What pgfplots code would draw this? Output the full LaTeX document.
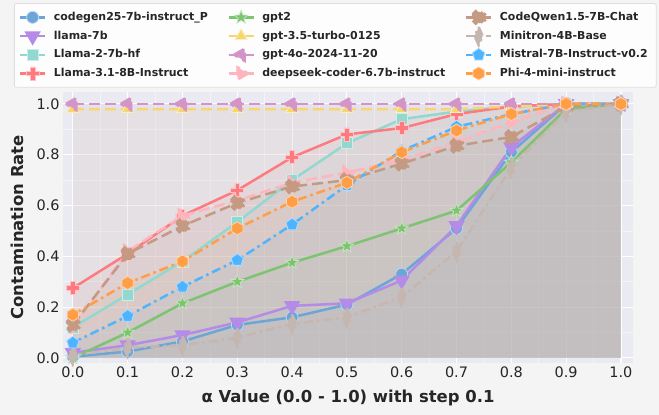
\documentclass[border=0pt]{standalone}
\usepackage{pgfplots}
\usepackage{pgfplotstable}
\pgfplotsset{compat=1.18}
\usetikzlibrary{plotmarks}
\usepackage{fontspec}
\setmainfont{DejaVu Sans}

\definecolor{cA}{HTML}{6CA6D9}
\definecolor{cB}{HTML}{B48CE8}
\definecolor{cC}{HTML}{93D8CF}
\definecolor{cD}{HTML}{FF7A7F}
\definecolor{cE}{HTML}{7CC46F}
\definecolor{cF}{HTML}{F5D76E}
\definecolor{cG}{HTML}{D494C8}
\definecolor{cH}{HTML}{FFB4BE}
\definecolor{cI}{HTML}{C49A82}
\definecolor{cJ}{HTML}{C6B6B0}
\definecolor{cK}{HTML}{4FB4FF}
\definecolor{cL}{HTML}{FF9E45}
\definecolor{figbg}{HTML}{F4F4F4}
\definecolor{axbg}{HTML}{EAEAF2}
\definecolor{txt}{HTML}{262626}
\definecolor{mixc}{RGB}{172,190,196}

% filled plus
\pgfdeclareplotmark{fplus}{%
  \pgfpathmoveto{\pgfpoint{-0.36\pgfplotmarksize}{\pgfplotmarksize}}%
  \pgfpathlineto{\pgfpoint{0.36\pgfplotmarksize}{\pgfplotmarksize}}%
  \pgfpathlineto{\pgfpoint{0.36\pgfplotmarksize}{0.36\pgfplotmarksize}}%
  \pgfpathlineto{\pgfpoint{\pgfplotmarksize}{0.36\pgfplotmarksize}}%
  \pgfpathlineto{\pgfpoint{\pgfplotmarksize}{-0.36\pgfplotmarksize}}%
  \pgfpathlineto{\pgfpoint{0.36\pgfplotmarksize}{-0.36\pgfplotmarksize}}%
  \pgfpathlineto{\pgfpoint{0.36\pgfplotmarksize}{-\pgfplotmarksize}}%
  \pgfpathlineto{\pgfpoint{-0.36\pgfplotmarksize}{-\pgfplotmarksize}}%
  \pgfpathlineto{\pgfpoint{-0.36\pgfplotmarksize}{-0.36\pgfplotmarksize}}%
  \pgfpathlineto{\pgfpoint{-\pgfplotmarksize}{-0.36\pgfplotmarksize}}%
  \pgfpathlineto{\pgfpoint{-\pgfplotmarksize}{0.36\pgfplotmarksize}}%
  \pgfpathlineto{\pgfpoint{-0.36\pgfplotmarksize}{0.36\pgfplotmarksize}}%
  \pgfpathclose\pgfusepathqfillstroke}
% filled star
\pgfdeclareplotmark{fstar}{%
  \pgfpathmoveto{\pgfpointpolar{90}{\pgfplotmarksize}}%
  \pgfpathlineto{\pgfpointpolar{126}{0.42\pgfplotmarksize}}%
  \pgfpathlineto{\pgfpointpolar{162}{\pgfplotmarksize}}%
  \pgfpathlineto{\pgfpointpolar{198}{0.42\pgfplotmarksize}}%
  \pgfpathlineto{\pgfpointpolar{234}{\pgfplotmarksize}}%
  \pgfpathlineto{\pgfpointpolar{270}{0.42\pgfplotmarksize}}%
  \pgfpathlineto{\pgfpointpolar{306}{\pgfplotmarksize}}%
  \pgfpathlineto{\pgfpointpolar{342}{0.42\pgfplotmarksize}}%
  \pgfpathlineto{\pgfpointpolar{18}{\pgfplotmarksize}}%
  \pgfpathlineto{\pgfpointpolar{54}{0.42\pgfplotmarksize}}%
  \pgfpathclose\pgfusepathqfillstroke}
% filled hexagon
\pgfdeclareplotmark{fhex}{%
  \pgfpathmoveto{\pgfpointpolar{90}{\pgfplotmarksize}}%
  \pgfpathlineto{\pgfpointpolar{150}{\pgfplotmarksize}}%
  \pgfpathlineto{\pgfpointpolar{210}{\pgfplotmarksize}}%
  \pgfpathlineto{\pgfpointpolar{270}{\pgfplotmarksize}}%
  \pgfpathlineto{\pgfpointpolar{330}{\pgfplotmarksize}}%
  \pgfpathlineto{\pgfpointpolar{30}{\pgfplotmarksize}}%
  \pgfpathclose\pgfusepathqfillstroke}

\pgfplotstableread{
x    codegen llamaA llamaB llamaC gpttwo gptturbo gptfour deepseek codeqwen minitron mistral phi
0.0  0.005   0.02   0.12   0.275  0.00   0.98     1.00    0.12     0.13     0.01     0.06    0.17
0.1  0.025   0.05   0.25   0.41   0.10   0.98     1.00    0.42     0.41     0.04     0.165   0.295
0.2  0.065   0.09   0.38   0.56   0.215  0.98     1.00    0.56     0.52     0.05     0.28    0.38
0.3  0.13    0.14   0.535  0.66   0.30   0.98     1.00    0.62     0.61     0.08     0.385   0.51
0.4  0.16    0.205  0.70   0.79   0.375  0.98     1.00    0.69     0.675    0.135    0.525   0.615
0.5  0.21    0.215  0.845  0.88   0.44   0.98     1.00    0.73     0.70     0.16     0.68    0.69
0.6  0.33    0.305  0.94   0.905  0.51   0.98     1.00    0.78     0.765    0.24     0.815   0.81
0.7  0.51    0.52   0.97   0.96   0.58   0.98     1.00    0.85     0.835    0.42     0.91    0.895
0.8  0.81    0.83   0.99   0.99   0.77   0.99     1.00    0.93     0.87     0.75     0.96    0.96
0.9  1.00    1.00   1.00   1.00   0.98   1.00     1.00    1.00     0.99     0.97     1.00    1.00
1.0  1.00    1.00   1.00   1.00   1.00   1.00     1.00    1.00     1.00     1.00     1.00    1.00
}\data

\pgfplotsset{
  dashA/.style={dash pattern=on 11bp off 5bp},
  dashB/.style={dash pattern=on 9bp off 4bp on 2.5bp off 4bp},
  mk/.style={line width=2.5bp, mark options={solid, fill=#1, draw=white!55!#1, line width=0.8bp}},
  area/.style={draw=none, fill=#1!60!mixc, fill opacity=0.1, forget plot},
  sA/.style={color=cA, solid, mark=*, mark size=6bp, mk=cA},
  sB/.style={color=cB, solid, mark=triangle*, mark size=7bp, mk=cB, mark options={rotate=180}},
  sC/.style={color=cC, solid, mark=square*, mark size=5.5bp, mk=cC},
  sD/.style={color=cD, solid, mark=fplus, mark size=6.5bp, mk=cD},
  sE/.style={color=cE, solid, mark=fstar, mark size=7bp, mk=cE},
  sF/.style={color=cF, dashA, mark=triangle*, mark size=7bp, mk=cF},
  sG/.style={color=cG, dashA, mark=triangle*, mark size=7bp, mk=cG, mark options={rotate=90}},
  sH/.style={color=cH, dashA, mark=triangle*, mark size=7bp, mk=cH, mark options={rotate=-90}},
  sI/.style={color=cI, dashA, mark=fplus, mark size=6.5bp, mk=cI, mark options={rotate=45}},
  sJ/.style={color=cJ, dashB, mark=diamond*, mark size=9bp, mk=cJ, mark options={xscale=0.6}},
  sK/.style={color=cK, dashB, mark=pentagon*, mark size=6.5bp, mk=cK},
  sL/.style={color=cL, dashB, mark=fhex, mark size=6.5bp, mk=cL},
}

\begin{document}
\begin{tikzpicture}
\fill[figbg] (-63bp,-52bp) rectangle (596bp,363bp);
\begin{axis}[
  at={(0,0)}, anchor=south west,
  scale only axis, width=570bp, height=271bp,
  xmin=-0.018, xmax=1.022, ymin=-0.02, ymax=1.047,
  xtick={0,0.1,...,1.0}, ytick={0,0.2,...,1.0},
  minor x tick num=1, minor y tick num=1,
  axis background/.style={fill=axbg},
  axis line style={draw=none},
  major tick length=0pt, minor tick length=0pt,
  grid=both,
  major grid style={white, line width=1.1bp},
  minor grid style={white, opacity=0.5, line width=0.5bp},
  /pgf/number format/assume math mode=true,
  ticklabel style={font=\fontsize{14.5}{16}\selectfont, text=txt,
    /pgf/number format/.cd, fixed, fixed zerofill, precision=1},
  xlabel={α Value (0.0 - 1.0) with step 0.1},
  ylabel={Contamination Rate},
  label style={font=\fontsize{16.5}{19}\selectfont\bfseries, text=txt},
  xlabel style={at={(axis description cs:0.5,-0.129)}, anchor=center},
  ylabel style={at={(axis description cs:-0.0807,0.5)}, anchor=center},
  legend columns=3,
  legend cell align=left,
  legend image code/.code={\draw[mark repeat=2, mark phase=2, #1]
    plot coordinates {(0bp,0bp) (12.5bp,0bp) (25bp,0bp)};},
  legend style={at={(axis description cs:-0.086,1.328)}, anchor=north west,
    draw=black!13, line width=0.8bp, fill=white!80!figbg, rounded corners=2bp,
    font=\fontsize{11}{13}\selectfont\bfseries, text=txt,
    inner xsep=4.5bp, inner ysep=4.5bp,
    nodes={inner xsep=4bp, inner ysep=4bp, text height=8.3bp, text depth=2.4bp},
    /tikz/every odd column/.append style={column sep=3.5bp},
    /tikz/every even column/.append style={column sep=15.5bp}},
]
% shaded areas down to zero
\addplot[area=cA] table[x=x, y=codegen] {\data} \closedcycle;
\addplot[area=cB] table[x=x, y=llamaA] {\data} \closedcycle;
\addplot[area=cC] table[x=x, y=llamaB] {\data} \closedcycle;
\addplot[area=cD] table[x=x, y=llamaC] {\data} \closedcycle;
\addplot[area=cE] table[x=x, y=gpttwo] {\data} \closedcycle;
\addplot[area=cF] table[x=x, y=gptturbo] {\data} \closedcycle;
\addplot[area=cG] table[x=x, y=gptfour] {\data} \closedcycle;
\addplot[area=cH] table[x=x, y=deepseek] {\data} \closedcycle;
\addplot[area=cI] table[x=x, y=codeqwen] {\data} \closedcycle;
\addplot[area=cJ] table[x=x, y=minitron] {\data} \closedcycle;
\addplot[area=cK] table[x=x, y=mistral] {\data} \closedcycle;
\addplot[area=cL] table[x=x, y=phi] {\data} \closedcycle;
% lines
\addplot[sA, forget plot] table[x=x, y=codegen] {\data};
\addplot[sB, forget plot] table[x=x, y=llamaA] {\data};
\addplot[sC, forget plot] table[x=x, y=llamaB] {\data};
\addplot[sD, forget plot] table[x=x, y=llamaC] {\data};
\addplot[sE, forget plot] table[x=x, y=gpttwo] {\data};
\addplot[sF, forget plot] table[x=x, y=gptturbo] {\data};
\addplot[sG, forget plot] table[x=x, y=gptfour] {\data};
\addplot[sH, forget plot] table[x=x, y=deepseek] {\data};
\addplot[sI, forget plot] table[x=x, y=codeqwen] {\data};
\addplot[sJ, forget plot] table[x=x, y=minitron] {\data};
\addplot[sK, forget plot] table[x=x, y=mistral] {\data};
\addplot[sL, forget plot] table[x=x, y=phi] {\data};
% legend, row by row
\addlegendimage{sA}\addlegendentry{codegen25-7b-instruct\_P}
\addlegendimage{sE}\addlegendentry{gpt2}
\addlegendimage{sI}\addlegendentry{CodeQwen1.5-7B-Chat}
\addlegendimage{sB}\addlegendentry{llama-7b}
\addlegendimage{sF}\addlegendentry{gpt-3.5-turbo-0125}
\addlegendimage{sJ}\addlegendentry{Minitron-4B-Base}
\addlegendimage{sC}\addlegendentry{Llama-2-7b-hf}
\addlegendimage{sG}\addlegendentry{gpt-4o-2024-11-20}
\addlegendimage{sK}\addlegendentry{Mistral-7B-Instruct-v0.2}
\addlegendimage{sD}\addlegendentry{Llama-3.1-8B-Instruct}
\addlegendimage{sH}\addlegendentry{deepseek-coder-6.7b-instruct}
\addlegendimage{sL}\addlegendentry{Phi-4-mini-instruct}
\end{axis}
\end{tikzpicture}
\end{document}
